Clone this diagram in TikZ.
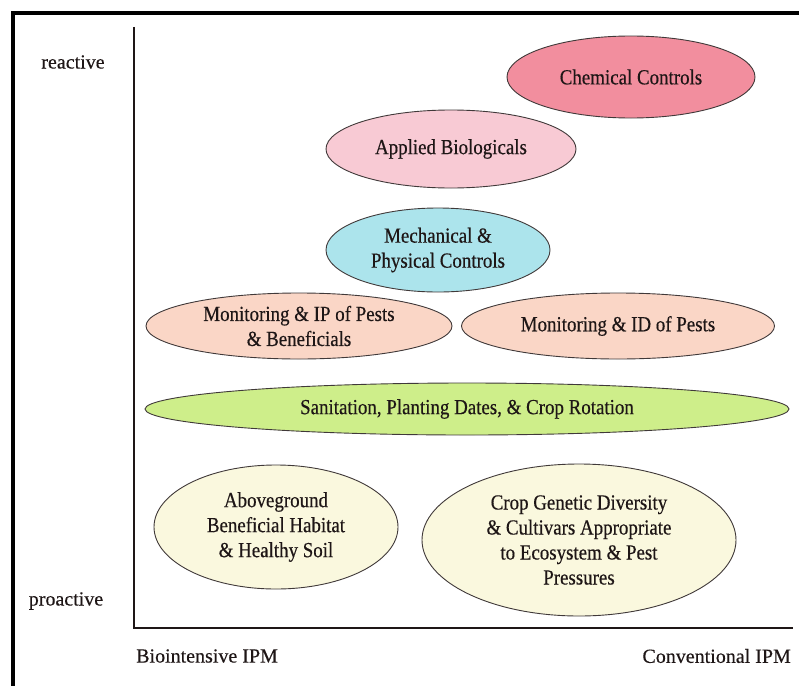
\documentclass[tikz,border=0pt]{standalone}
\usepackage{fontspec}
\setmainfont{Liberation Serif}
\newfontfamily\condfont{Liberation Serif}[FakeStretch=0.88,FakeBold=0.4]
\newfontfamily\axfont{Liberation Serif}[FakeBold=0.3]
\usetikzlibrary{shapes.geometric}
\definecolor{chemc}{RGB}{242,142,158}
\definecolor{biolc}{RGB}{248,202,212}
\definecolor{mechc}{RGB}{172,228,236}
\definecolor{monc}{RGB}{250,214,198}
\definecolor{sanc}{RGB}{206,238,138}
\definecolor{soilc}{RGB}{250,248,222}
\definecolor{inkc}{RGB}{30,22,22}
\begin{document}
\begin{tikzpicture}[x=1pt,y=-1pt,
  blob/.style={ellipse,draw=inkc!85,line width=0.9pt,inner sep=0pt,align=center,
    text=inkc,font=\condfont\fontsize{21.5}{25}\selectfont},
  axlab/.style={text=inkc,font=\axfont\fontsize{20}{24}\selectfont,inner sep=0pt}]
\useasboundingbox (0,0) rectangle (799,685);
\fill[white] (0,0) rectangle (799,685);
% frame
\draw[line width=4pt,line cap=rect] (13,685) -- (13,13) -- (799,13);
% axes
\coordinate (top) at (134,27);
\coordinate (corner) at (134,628);
\coordinate (right) at (793,628);
\draw[line width=2pt,inkc] (top) -- (corner) -- (right);
% axis labels
\node[axlab] (re) at (73,62) {reactive};
\node[axlab] (pro) at (66,601) {proactive};
\node[axlab,anchor=west] (bio) at (136,656) {Biointensive IPM};
\node[axlab,anchor=east] (con) at (791,656) {Conventional IPM};
% ellipses
\node[blob,fill=chemc,minimum width=248pt,minimum height=82pt] (chem) at (631,77) {Chemical Controls};
\node[blob,fill=biolc,minimum width=250pt,minimum height=78pt] (biol) at (451,149) {Applied Biologicals};
\node[blob,fill=mechc,minimum width=224pt,minimum height=84pt] (mech) at (438,250) {Mechanical \&\\Physical Controls};
\node[blob,fill=monc,minimum width=306pt,minimum height=66pt] (monip) at (299,326) {Monitoring \& IP of Pests\\\& Beneficials};
\node[blob,fill=monc,minimum width=313pt,minimum height=66pt] (monid) at (618,326) {Monitoring \& ID of Pests};
\node[blob,fill=sanc,minimum width=644pt,minimum height=52pt] (san) at (467,409) {Sanitation, Planting Dates, \& Crop Rotation};
\node[blob,fill=soilc,minimum width=244pt,minimum height=124pt] (soil) at (276,527) {Aboveground\\Beneficial Habitat\\\& Healthy Soil};
\node[blob,fill=soilc,minimum width=314pt,minimum height=152pt] (crop) at (579,540) {Crop Genetic Diversity\\\& Cultivars Appropriate\\to Ecosystem \& Pest\\Pressures};
\end{tikzpicture}
\end{document}
